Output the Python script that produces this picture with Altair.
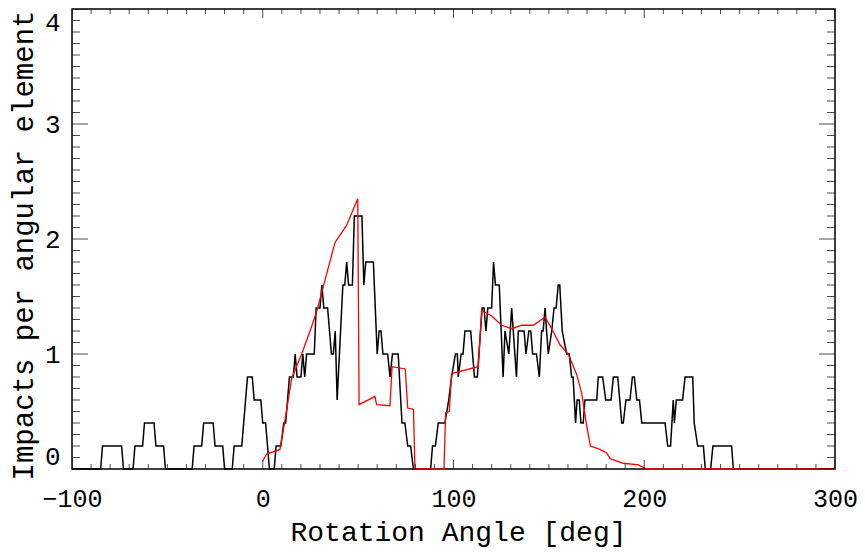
import altair as alt
import pandas as pd

# Black measured histogram (vertices of the polyline)
black_x = [-100, -85, -84, -74, -73, -68, -67, -63, -62, -57, -56, -52, -51, -37, -36, -32, -31, -26, -25, -21, -20,
           -16, -15, -11, -10, -9, -8, -5.5, -4.5, -1, 0, 1.5, 3.5, 6, 7, 9.5, 11, 12, 13, 14, 16, 17, 18, 20, 21, 22,
           23, 27, 28, 30, 31, 32, 34, 35, 36, 37, 38, 39, 42, 43, 44, 45, 47, 48, 52, 53, 54, 58, 60, 61, 62, 63,
           65.5, 66.7, 68, 71, 73, 74.5, 76, 77.5, 79, 88, 89, 90.5, 92, 95.5, 97.5, 99, 101, 102, 102.5, 104, 105,
           106, 109, 111, 112.5, 115, 116, 117, 118, 120, 121, 122, 124, 126, 127, 129, 130.5, 133, 134, 137, 138,
           139.5, 140.5, 141.5, 143.5, 145, 146.2, 147, 148, 148.8, 149.7, 151.5, 152.7, 153.8, 154.9, 155.7, 157,
           159.3, 160.7, 161.9, 162.7, 164, 164.8, 165.9, 166.8, 168, 168.9, 175.1, 175.9, 178.2, 179.8, 182.6, 183.8,
           186.1, 188.2, 189, 190.4, 192.5, 193.8, 194.8, 196.1, 197.5, 198.7, 210.9, 212.3, 213.8, 215.2, 215.8,
           216.8, 220.1, 221.4, 225.4, 226.2, 228, 231, 232, 234.8, 236, 245.8, 246.7, 300]
black_y = [0, 0, 0.2, 0.2, 0, 0, 0.2, 0.2, 0.4, 0.4, 0.2, 0.2, 0, 0, 0.2, 0.2, 0.4, 0.4, 0.2, 0.2, 0,
           0, 0.2, 0.2, 0.4, 0.6, 0.8, 0.8, 0.6, 0.6, 0.4, 0.4, 0, 0, 0.2, 0.2, 0.4, 0.4, 0.6, 0.8, 0.8, 1.0, 0.8, 0.8, 1.0, 0.8,
           1.0, 1.0, 1.4, 1.4, 1.6, 1.4, 1.4, 1.2, 1.0, 1.0, 1.2, 0.6, 1.6, 1.6, 1.8, 1.6, 1.6, 2.2, 2.2, 1.6, 1.8, 1.8, 1.0, 1.2, 1.2, 1.0,
           1.0, 0.8, 1.0, 1.0, 0.4, 0.4, 0.2, 0.2, 0, 0, 0.2, 0.2, 0.4, 0.4, 0.6, 0.8, 1.0, 1.0, 0.8, 1.0, 1.0,
           1.2, 1.2, 0.8, 0.8, 1.4, 1.4, 1.2, 1.4, 1.4, 1.8, 1.6, 1.6, 0.8, 1.2, 1.0, 1.4, 0.8, 1.2, 1.2, 1.0,
           1.2, 1.2, 1.0, 1.0, 0.8, 1.2, 1.2, 1.4, 1.2, 1.0, 1.2, 1.4, 1.4, 1.6, 1.6, 1.2,
           1.0, 1.0, 0.8, 0.8, 0.4, 0.6, 0.6, 0.4, 0.4, 0.6, 0.6, 0.8, 0.8, 0.6, 0.6, 0.8,
           0.8, 0.4, 0.4, 0.6, 0.6, 0.8, 0.8, 0.6, 0.6, 0.4, 0.4, 0.2, 0.2, 0.6, 0.4,
           0.6, 0.6, 0.8, 0.8, 0.4, 0.2, 0.2, 0, 0, 0.2, 0.2, 0, 0]

# Red model curve
red_x = [0, 2, 9, 11.7, 15.2, 20.4, 24.8, 28.3, 32.6, 37.9, 44, 49.8, 50.5, 58.8, 59.7, 66.7, 67.8, 74.7, 76, 79,
         79.8, 95, 95.9, 97.8, 99, 113, 114.8, 120, 125.3, 130.5, 135.8, 141.8, 148, 151.5, 155.8, 160.2, 164.6,
         167.2, 169.8, 171.8, 176.8, 180.3, 182.1, 189, 196.9, 201.3, 300]
red_y = [0.07, 0.13, 0.17, 0.43, 0.79, 1.0, 1.2, 1.37, 1.64, 1.97, 2.12, 2.35, 0.56, 0.63, 0.56, 0.55, 0.89, 0.87, 0.53, 0.52,
         0, 0, 0.49, 0.5, 0.83, 0.89, 1.38, 1.33, 1.25, 1.22, 1.25, 1.25, 1.32, 1.22, 1.08, 1.0, 0.82,
         0.66, 0.38, 0.2, 0.17, 0.14, 0.09, 0.05, 0.035, 0, 0]

x_tick_values = list(range(-100, 301, 10))
y_tick_values = [i / 10 for i in range(0, 41)]
x_label_values = [-100, 0, 100, 200, 300]
y_label_values = [0, 1, 2, 3, 4]

W, H = 763, 460
MONO = "Liberation Mono"

df_black = pd.DataFrame({"angle": black_x, "value": black_y, "i": range(len(black_x))})
df_red = pd.DataFrame({"angle": red_x, "value": red_y, "i": range(len(red_x))})
df_xt = pd.DataFrame({"angle": x_tick_values, "s": [18 if v % 100 == 0 else 10 for v in x_tick_values]})
df_yt = pd.DataFrame({"value": y_tick_values, "s": [32 if abs(v - round(v)) < 1e-9 else 16 for v in y_tick_values]})

xs = alt.Scale(domain=[-100, 300], nice=False, zero=False)
ys = alt.Scale(domain=[0, 4], nice=False, zero=False)

x_axis = alt.Axis(values=x_label_values, format="d", ticks=False, domain=False, grid=False,
                  labelFont=MONO, labelFontSize=25, labelColor="black", labelPadding=37,
                  labelBaseline="alphabetic", labelFlush=False, labelOverlap=False, labelBound=False,
                  title="Rotation Angle [deg]", titleFont=MONO, titleFontSize=28,
                  titleFontWeight="normal", titleColor="black", titleX=386, titleY=71,
                  titleBaseline="alphabetic", titleAlign="center")
y_axis = alt.Axis(values=y_label_values, format="d", ticks=False, domain=False, grid=False,
                  labelFont=MONO, labelFontSize=26, labelColor="black", labelPadding=12,
                  labelFlush=True, labelOverlap=False,
                  title="Impacts per angular element", titleFont=MONO, titleFontSize=29,
                  titleFontWeight="normal", titleColor="black", titleX=-40, titleY=236,
                  titleAngle=270, titleBaseline="alphabetic", titleAlign="center")

black = alt.Chart(df_black).mark_line(color="black", strokeWidth=1.5).encode(
    x=alt.X("angle:Q", scale=xs, axis=x_axis),
    y=alt.Y("value:Q", scale=ys, axis=y_axis),
    order=alt.Order("i:Q"),
)
red = alt.Chart(df_red).mark_line(color="#ff0000", strokeWidth=1.3).encode(
    x=alt.X("angle:Q", scale=xs),
    y=alt.Y("value:Q", scale=ys),
    order=alt.Order("i:Q"),
)

def xticks(ypix):
    return alt.Chart(df_xt).mark_tick(clip=True, color="black", thickness=1, orient="vertical").encode(
        x=alt.X("angle:Q", scale=xs),
        y=alt.value(ypix),
        size=alt.Size("s:Q", scale=None),
    )

def yticks(xpix):
    return alt.Chart(df_yt).mark_tick(clip=True, color="black", thickness=1, orient="horizontal").encode(
        y=alt.Y("value:Q", scale=ys),
        x=alt.value(xpix),
        size=alt.Size("s:Q", scale=None),
    )

chart = alt.layer(
    black, red, xticks(H), xticks(0), yticks(0), yticks(W)
).properties(
    width=W, height=H, autosize="none",
    padding={"left": 64, "top": 1, "right": 22, "bottom": 79},
    background="white",
).configure_view(stroke="black", strokeWidth=1.5)

chart.save("out.html", embed_options={"renderer": "svg", "actions": False})
